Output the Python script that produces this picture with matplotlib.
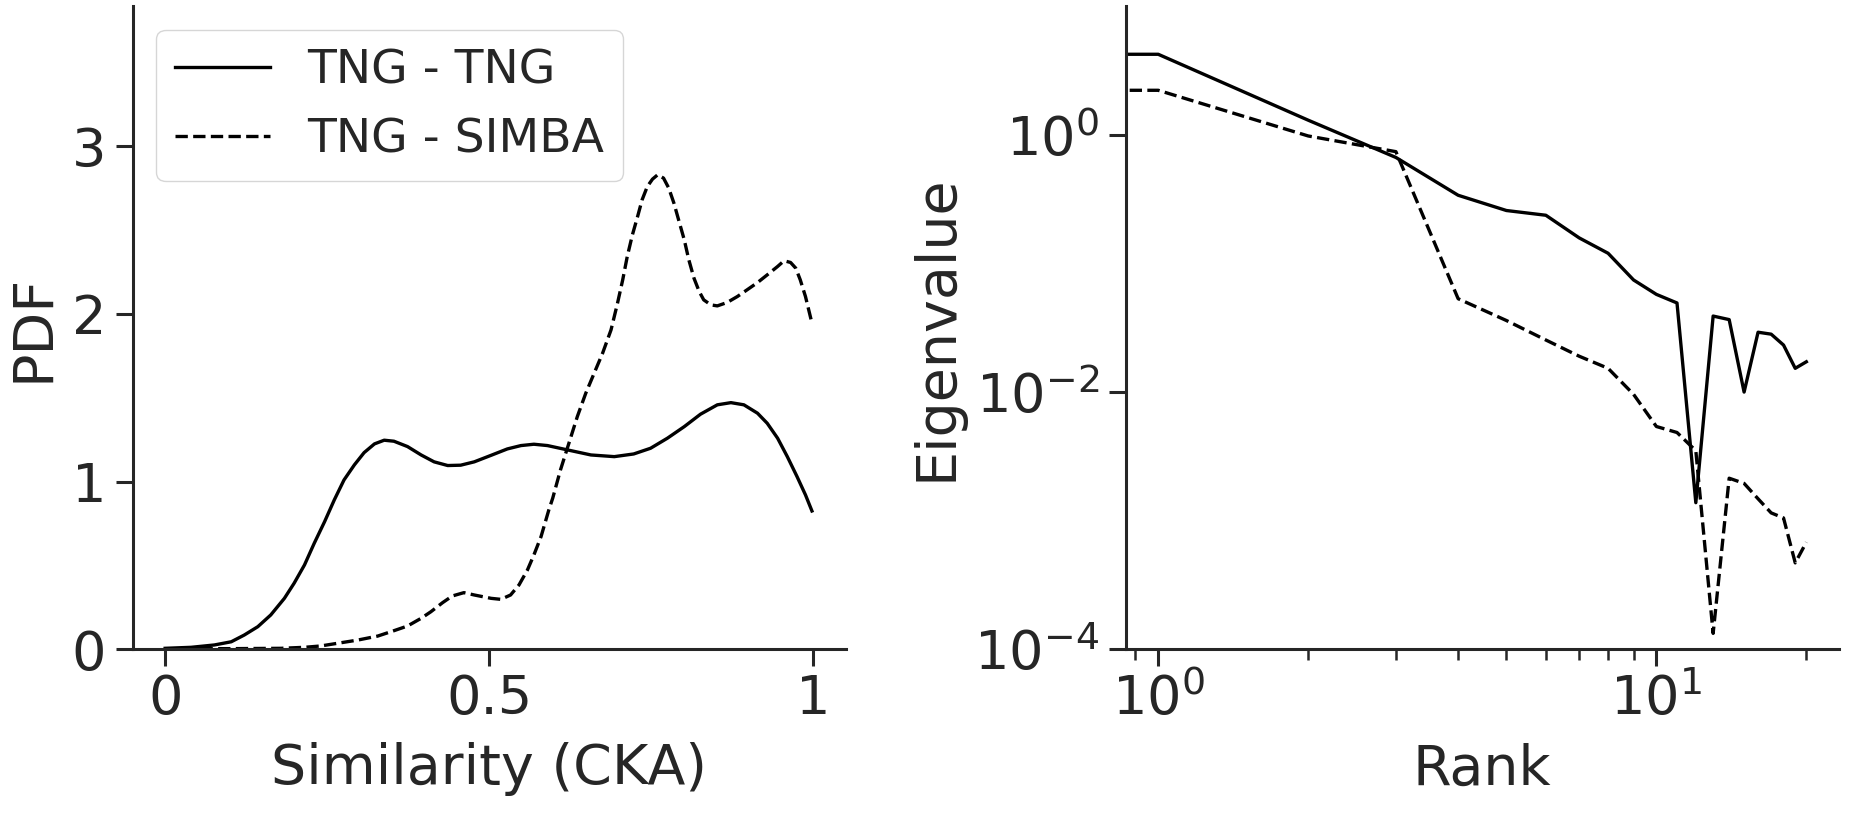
import numpy as np
import matplotlib
matplotlib.use('Agg')
import matplotlib.pyplot as plt
from matplotlib.ticker import NullLocator

# CKA similarity PDFs
cka_tng = [0.000, 0.040, 0.076, 0.102, 0.122, 0.143, 0.163, 0.184, 0.199, 0.215,
           0.230, 0.246, 0.261, 0.276, 0.292, 0.307, 0.323, 0.338, 0.353, 0.374,
           0.395, 0.415, 0.436, 0.456, 0.477, 0.503, 0.528, 0.549, 0.569, 0.590,
           0.621, 0.657, 0.693, 0.723, 0.749, 0.775, 0.801, 0.826, 0.852, 0.873,
           0.893, 0.914, 0.929, 0.945, 0.960, 0.975, 0.988, 0.998]
pdf_tng = [0.006, 0.012, 0.026, 0.045, 0.085, 0.135, 0.205, 0.304, 0.394, 0.503,
           0.632, 0.761, 0.891, 1.010, 1.100, 1.173, 1.225, 1.247, 1.241, 1.209,
           1.159, 1.118, 1.096, 1.098, 1.118, 1.157, 1.195, 1.215, 1.223, 1.215,
           1.189, 1.159, 1.149, 1.165, 1.199, 1.259, 1.328, 1.402, 1.458, 1.471,
           1.458, 1.408, 1.348, 1.259, 1.149, 1.030, 0.921, 0.825]

cka_simba = [0.000, 0.102, 0.179, 0.215, 0.240, 0.266, 0.297, 0.328, 0.353, 0.374,
             0.395, 0.410, 0.428, 0.443, 0.461, 0.477, 0.503, 0.518, 0.533, 0.546,
             0.559, 0.569, 0.580, 0.592, 0.598, 0.610, 0.623, 0.636, 0.649, 0.662,
             0.675, 0.688, 0.698, 0.706, 0.713, 0.721, 0.729, 0.736, 0.744, 0.752,
             0.760, 0.769, 0.777, 0.785, 0.793, 0.801, 0.808, 0.816, 0.824, 0.831,
             0.842, 0.852, 0.867, 0.883, 0.898, 0.914, 0.929, 0.945, 0.955, 0.965,
             0.973, 0.980, 0.988, 0.998]
pdf_simba = [0.004, 0.004, 0.006, 0.012, 0.020, 0.036, 0.055, 0.079, 0.111, 0.139,
             0.185, 0.224, 0.278, 0.318, 0.338, 0.324, 0.304, 0.298, 0.324, 0.384,
             0.473, 0.563, 0.672, 0.831, 0.901, 1.070, 1.229, 1.388, 1.527, 1.647,
             1.766, 1.905, 2.064, 2.203, 2.342, 2.472, 2.581, 2.681, 2.760, 2.804,
             2.830, 2.810, 2.751, 2.661, 2.551, 2.442, 2.323, 2.213, 2.134, 2.084,
             2.054, 2.048, 2.068, 2.104, 2.144, 2.187, 2.233, 2.283, 2.317, 2.307,
             2.273, 2.203, 2.104, 1.945]

# eigenvalue spectra, rank 0..20
rank = np.arange(21)
eig_tng = [5.5, 4.23, 1.30, 0.667, 0.339, 0.258, 0.237, 0.158, 0.12, 0.0744,
           0.0575, 0.0493, 0.00138, 0.039, 0.0366, 0.01, 0.0292, 0.0282, 0.0232,
           0.0153, 0.0172]
eig_simba = [3.0, 2.22, 0.98, 0.74, 0.0532, 0.036, 0.0254, 0.019, 0.0153, 0.0096,
             0.0054, 0.00485, 0.0035, 0.000133, 0.00214, 0.00195, 0.00148,
             0.00115, 0.00105, 0.00047, 0.00068]

TEXT = '#262626'


def main():
    plt.rcParams.update({
        'font.family': 'DejaVu Sans',
        'text.color': TEXT,
        'axes.labelcolor': TEXT,
        'axes.edgecolor': TEXT,
        'xtick.color': TEXT,
        'ytick.color': TEXT,
        'axes.linewidth': 2.2,
        'xtick.major.size': 12, 'ytick.major.size': 12,
        'xtick.minor.size': 8, 'ytick.minor.size': 8,
        'xtick.major.width': 2.2, 'ytick.major.width': 2.2,
        'xtick.minor.width': 1.8, 'ytick.minor.width': 1.8,
        'xtick.major.pad': 5, 'ytick.major.pad': 7,
        'xtick.labelsize': 39, 'ytick.labelsize': 39,
        'axes.labelsize': 40,
        'legend.fontsize': 34,
        'legend.edgecolor': '0.8',
    })

    fig, (ax1, ax2) = plt.subplots(1, 2, figsize=(18.59, 8.4), dpi=100)
    fig.subplots_adjust(left=0.0714, right=0.9891, bottom=0.227, top=0.9926,
                        wspace=0.393)

    ax1.plot(cka_tng, pdf_tng, color='k', lw=2.4, label='TNG - TNG')
    ax1.plot(cka_simba, pdf_simba, color='k', lw=2.4, ls='--', label='TNG - SIMBA')
    ax1.set_xlim(-0.05, 1.05)
    ax1.set_ylim(0, 3.835)
    ax1.set_xticks([0, 0.5, 1], ['0', '0.5', '1'])
    ax1.set_yticks([0, 1, 2, 3])
    ax1.set_xlabel('Similarity (CKA)', labelpad=12)
    ax1.set_ylabel('PDF', labelpad=8)
    ax1.legend(loc='upper left')

    ax2.plot(rank, eig_tng, color='k', lw=2.4)
    ax2.plot(rank, eig_simba, color='k', lw=2.4, ls='--')
    ax2.set_xscale('log')
    ax2.set_yscale('log')
    ax2.set_ylim(1e-4, 10)
    ax2.set_yticks([1e-4, 1e-2, 1])
    ax2.yaxis.set_minor_locator(NullLocator())
    ax2.set_xlabel('Rank', labelpad=12)
    ax2.set_ylabel('Eigenvalue', labelpad=8)

    for ax in (ax1, ax2):
        ax.spines['top'].set_visible(False)
        ax.spines['right'].set_visible(False)

    fig.savefig('out.png', dpi=100)


if __name__ == "__main__":
    main()
